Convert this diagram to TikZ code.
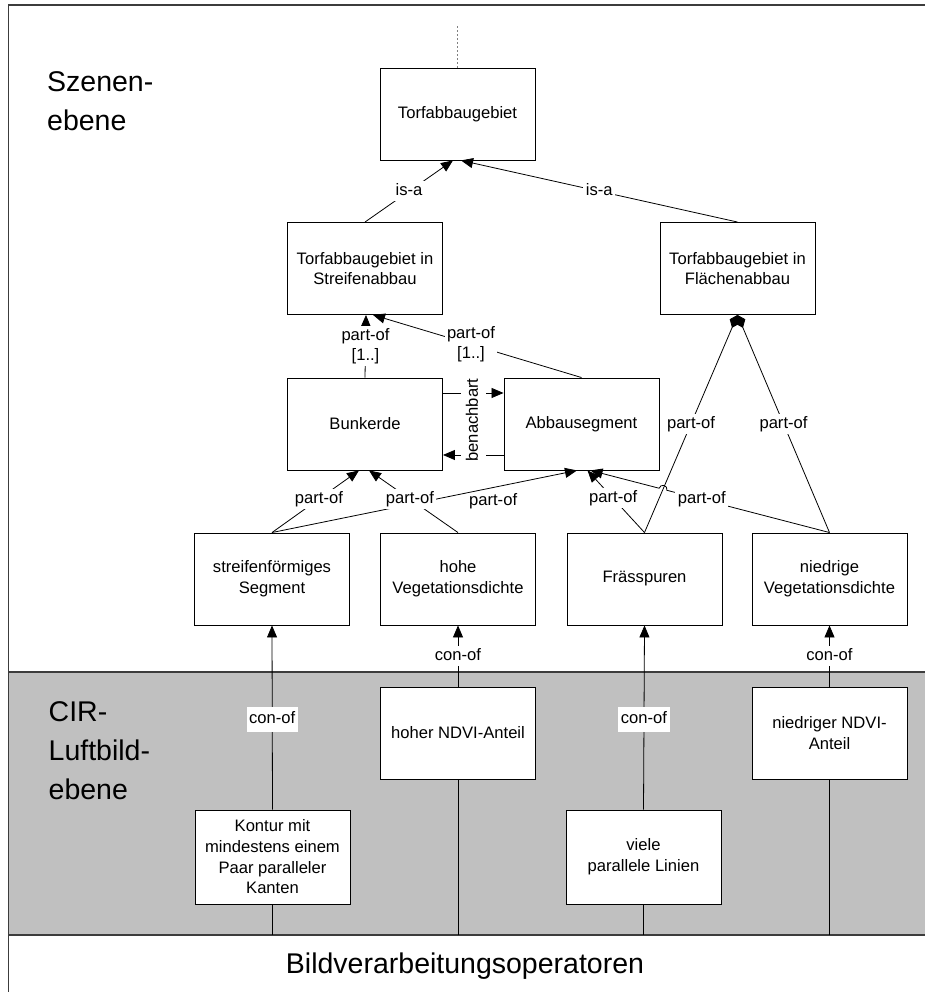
\documentclass[tikz,border=0pt]{standalone}
\usepackage{fontspec}
\setmainfont{Liberation Sans}
\usetikzlibrary{arrows.meta,calc,intersections}
\definecolor{bandgrey}{RGB}{192,192,192}
\definecolor{rulegrey}{RGB}{60,60,60}
\begin{document}
\begin{tikzpicture}[x=1pt,y=1pt,
  box/.style={draw=black, line width=0.9pt, fill=white, minimum width=155pt,
    minimum height=92pt, inner sep=0pt, align=center,
    font=\fontsize{16.6}{20.7}\selectfont},
  labtext/.style={fill=white, inner xsep=2.5pt, inner ysep=2pt, align=center,
    font=\fontsize{16.6}{20.7}\selectfont},
  lab/.style={labtext, text height=12.5pt, text depth=3.5pt},
  conlab/.style={lab, inner ysep=4.5pt},
  conn/.style={line width=0.8pt},
  tri/.style={conn, -{Triangle[length=12pt,width=10pt]}},
  dia/.style={conn, -{Diamond[length=14pt,width=11pt]}},
  layer/.style={font=\fontsize{28.5}{39}\selectfont, align=left, inner sep=0pt,
    anchor=north west},
  rule/.style={rulegrey, line width=1.2pt},
]
\useasboundingbox (0,0) rectangle (925,992);

% image level band and frame
\fill[bandgrey] (8.5,57) rectangle (926,320);
\draw[rule] (8.5,320) -- (926,320);
\draw[rule] (8.5,57) -- (926,57);
\draw[rule] (8.5,-1) -- (8.5,987) -- (926,987);

% level titles
\node[layer] (lvscene) at (47,920.5) {Szenen-\\ebene};
\node[layer] (lvcir) at (48.5,290.5) {CIR-\\Luftbild-\\ebene};
\node[font=\fontsize{28.5}{34}\selectfont, anchor=base, inner sep=0pt] (lvops)
  at (465,18.5) {Bildverarbeitungsoperatoren};

% concept nodes
\node[box] (top) at (457.5,878) {Torfabbaugebiet};
\node[box] (sa) at (365,723.5) {Torfabbaugebiet in\\Streifenabbau};
\node[box] (fa) at (737.5,723.5) {Torfabbaugebiet in\\Flächenabbau};
\node[box] (bk) at (365,568) {Bunkerde};
\node[box] (as) at (581.5,568) {Abbausegment};
\node[box] (sf) at (272,413) {streifenförmiges\\Segment};
\node[box] (hv) at (458,413) {hohe\\Vegetationsdichte};
\node[box] (fr) at (644.5,413) {Frässpuren};
\node[box] (nv) at (829.5,413) {niedrige\\Vegetationsdichte};
\node[box] (hn) at (458,259) {hoher NDVI-Anteil};
\node[box] (nn) at (829.5,259) {niedriger NDVI-\\Anteil};
\node[box, minimum height=94pt] (ko) at (272.5,135) {Kontur mit\\mindestens einem\\Paar paralleler\\Kanten};
\node[box, minimum height=94pt] (vl) at (643.5,135) {viele\\parallele Linien};

% upward continuation of the root concept
\coordinate (topend) at (457.5,968);
\draw[gray, line width=0.8pt, dash pattern=on 2pt off 2pt] (top.north) -- (topend);

% is-a
\draw[tri] (sa.north) -- node[lab, pos=0.5] {is-a} ($(top.south)+(-4.5,0)$);
\draw[tri] (fa.north) -- node[lab, pos=0.5] {is-a} ($(top.south)+(3.5,0)$);

% part-of [1..]
\draw[tri] (as.north) -- node[labtext, pos=0.53] {part-of\\{}[1..]} ($(sa.south)+(8,0)$);
\draw[tri] (bk.north) -- node[labtext, pos=0.5] {part-of\\{}[1..]} ($(sa.south)+(1,0)$);

% benachbart
\draw[tri] ([yshift=31pt]bk.east) -- ([yshift=31pt]as.west);
\draw[tri] ([yshift=-31pt]as.west) -- ([yshift=-31pt]bk.east);
\node[lab, rotate=90, inner ysep=4.5pt] (nb) at ($(bk.east)!.5!(as.west)+(0,4)$) {benachbart};

% part-of towards Bunkerde and Abbausegment
\draw[tri] (sf.north) -- node[lab, fill=none, pos=0.725, yshift=-13.5pt] {part-of} ($(as.south)+(-4.5,0)$);
\draw[tri] (sf.north) -- node[lab, pos=0.54] {part-of} ($(bk.south)+(-6,0)$);
\draw[tri] (hv.north) -- node[lab, pos=0.54] {part-of} ($(bk.south)+(4,0)$);
\draw[tri] (fr.north) -- node[lab, pos=0.55] {part-of} ($(as.south)+(6,0)$);

% part-of towards Flaechenabbau (aggregation)
\draw[dia] (fr.north) -- node[lab, pos=0.5] {part-of} (fa.south);
\draw[dia] (nv.north) -- node[lab, pos=0.5] {part-of} (fa.south);

% niedrige Vegetationsdichte -> Abbausegment, with a line jump
\coordinate (asR) at ($(as.south)+(9,0)$);
\path[name path=frfa] (fr.north) -- (fa.south);
\path[name path=nvas] (nv.north) -- (asR);
\path[name intersections={of=frfa and nvas, by=J}];
\draw[tri] (nv.north) -- node[lab, pos=0.785] {part-of} ($(J)!4pt!(nv.north)$)
  arc[start angle=-14.8, end angle=165.2, radius=4pt] -- (asR);

% con-of
\draw[tri] (ko.north) -- node[conlab, pos=0.49] {con-of} (sf.south);
\draw[tri] (hn.north) -- node[lab, pos=0.5] {con-of} (hv.south);
\draw[tri] (vl.north) -- node[conlab, pos=0.49] {con-of} (fr.south);
\draw[tri] (nn.north) -- node[lab, pos=0.5] {con-of} (nv.south);

% links down to the operator level
\coordinate (bb) at (0,57);
\draw[conn] (ko.south) -- (ko.south |- bb);
\draw[conn] (hn.south) -- (hn.south |- bb);
\draw[conn] (vl.south) -- (vl.south |- bb);
\draw[conn] (nn.south) -- (nn.south |- bb);
\end{tikzpicture}
\end{document}
